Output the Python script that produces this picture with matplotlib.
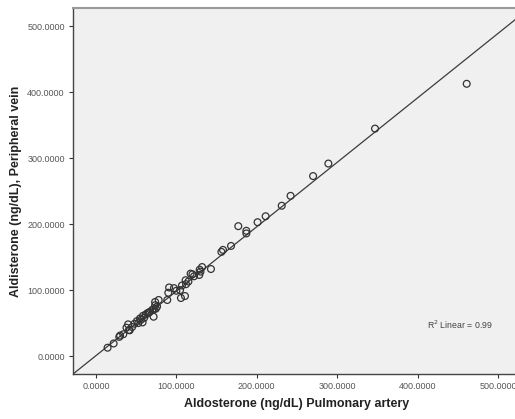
import matplotlib
matplotlib.use("Agg")
import matplotlib.pyplot as plt
import numpy as np

# Aldosterone (ng/dL) Pulmonary artery
pulmonary_artery = [461, 347, 289, 270, 242, 231, 211, 201, 177, 187, 187, 168, 158, 156,
                    143, 132, 129, 128.5, 120, 117.7, 111.5, 112, 107, 97, 91, 90, 104.6,
                    105.7, 110.7, 88.7, 78, 73.6, 73.6, 74.5, 71.7, 67, 62, 58.5, 58, 54.8,
                    51, 52.7, 40, 41, 38, 42, 30, 29, 22, 14.5,
                    64, 70, 76, 60, 56, 48, 45, 66, 72, 122, 130, 115, 100, 34]
# Aldisterone (ng/dL), Peripheral vein
peripheral_vein = [413, 345, 292, 273, 243, 228, 212, 203, 197, 190, 186, 167, 161, 158,
                   132, 135, 131, 123, 124, 125, 115, 109, 107, 103, 104, 96, 100,
                   88, 91, 85, 85, 82, 77, 71.8, 59.6, 67, 63, 61, 51, 57,
                   53, 50, 48, 39.5, 43, 39, 31, 29, 19, 12.6,
                   65, 70, 75, 58, 55, 49, 44, 66, 71, 121, 128, 113, 99, 33]

fit_slope = 0.978
fit_intercept = 0.5
r2_text = "R$^2$ Linear = 0.99"

x_ticks = [0, 100, 200, 300, 400, 500]
y_ticks = [0, 100, 200, 300, 400, 500]

plt.rcParams['font.family'] = ['Liberation Sans', 'DejaVu Sans']

fig = plt.figure(figsize=(5.15, 4.19), dpi=100)
W, H = 515, 419
left_px, right_px, top_px, bottom_px = 73, 521, 8, 374
ax = fig.add_axes([left_px / W, 1 - bottom_px / H, (right_px - left_px) / W, (bottom_px - top_px) / H])
ax.set_facecolor('#f0f0f0')

ax.set_xlim(-28.5, 528.5)
ax.set_ylim(-27.3, 528)

ax.axline((0, fit_intercept), slope=fit_slope, color='#3c3c3c', lw=0.9, zorder=2)
ax.scatter(pulmonary_artery, peripheral_vein, s=24, facecolors='none',
           edgecolors='#333333', linewidths=0.9, zorder=3)

ax.set_xticks(x_ticks)
ax.set_yticks(y_ticks)
ax.set_xticklabels([f"{v:.4f}" for v in x_ticks])
ax.set_yticklabels([f"{v:.4f}" for v in y_ticks])
ax.tick_params(axis='both', labelsize=6.5, colors='#333333', labelcolor='#555555',
               length=3, width=0.8, direction='out', pad=3)

for side in ['left', 'bottom']:
    ax.spines[side].set_color('#444444')
    ax.spines[side].set_linewidth(1.0)
ax.spines['top'].set_color('#999999')
ax.spines['top'].set_linewidth(1.5)
ax.spines['right'].set_visible(False)

ax.set_xlabel('Aldosterone (ng/dL) Pulmonary artery', fontsize=9, fontweight='bold',
              color='#222222', labelpad=5)
ax.set_ylabel('Aldisterone (ng/dL), Peripheral vein', fontsize=9, fontweight='bold',
              color='#222222', labelpad=4)

ax.text(412, 48, r2_text, fontsize=6.3, color='#444444', ha='left', va='center')

fig.savefig('out.png', dpi=100)
